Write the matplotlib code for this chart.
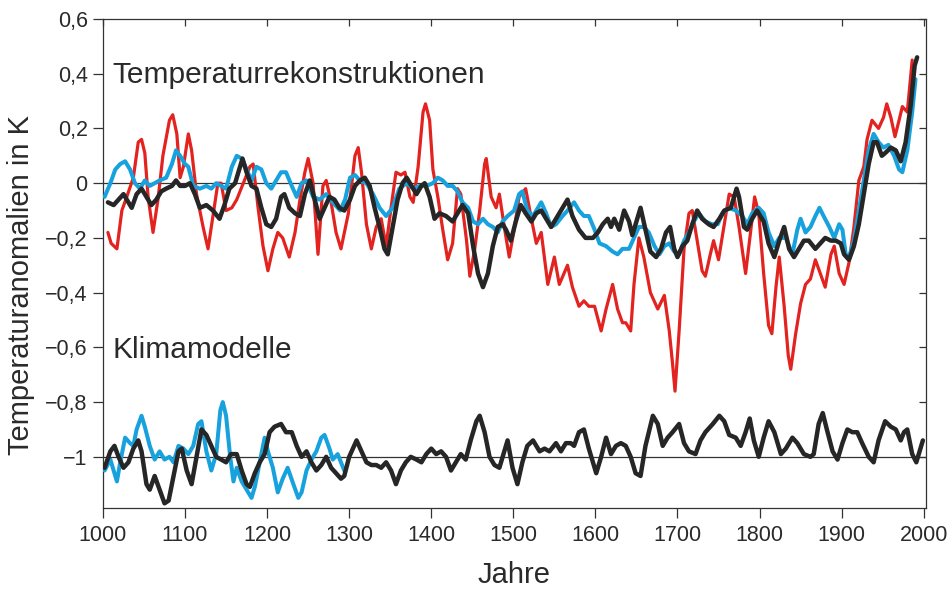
import numpy as np
import matplotlib
matplotlib.use("Agg")
from matplotlib import pyplot as plt
from matplotlib.ticker import FixedLocator, FixedFormatter

# Temperaturrekonstruktionen (rot)
red_years = [1006, 1010, 1017, 1023, 1029, 1037, 1043, 1047, 1051, 1055, 1061, 1067, 1073, 1081, 1085, 1090,
             1094, 1098, 1104, 1108, 1114, 1122, 1128, 1134, 1140, 1144, 1150, 1157, 1163, 1171, 1179, 1183,
             1189, 1195, 1201, 1207, 1213, 1219, 1227, 1234, 1240, 1246, 1250, 1256, 1262, 1268, 1272, 1278,
             1284, 1290, 1299, 1307, 1311, 1315, 1321, 1327, 1333, 1339, 1345, 1351, 1357, 1363, 1368, 1374,
             1378, 1384, 1390, 1393, 1398, 1402, 1408, 1414, 1420, 1426, 1432, 1436, 1443, 1447, 1453, 1459,
             1465, 1467, 1473, 1479, 1483, 1489, 1495, 1501, 1507, 1515, 1522, 1528, 1534, 1542, 1550, 1556,
             1566, 1572, 1580, 1586, 1592, 1599, 1607, 1613, 1621, 1627, 1633, 1637, 1643, 1647, 1653, 1659,
             1667, 1676, 1684, 1690, 1694, 1697, 1702, 1708, 1714, 1718, 1724, 1730, 1734, 1740, 1744, 1750,
             1757, 1763, 1769, 1775, 1783, 1789, 1794, 1799, 1805, 1811, 1815, 1820, 1824, 1830, 1835, 1838,
             1844, 1850, 1856, 1862, 1868, 1874, 1880, 1887, 1891, 1897, 1903, 1909, 1915, 1921, 1927, 1931,
             1937, 1945, 1951, 1955, 1960, 1965, 1970, 1974, 1980, 1986]
red_vals = [-0.18, -0.22, -0.24, -0.10, -0.05, 0.02, 0.15, 0.16, 0.11, -0.05, -0.18, -0.06, 0.10, 0.23, 0.25, 0.18,
            0.02, 0.06, 0.18, 0.12, -0.04, -0.16, -0.24, -0.12, 0.00, 0.00, -0.10, -0.09, -0.06, 0.00, 0.06, 0.07,
            -0.09, -0.23, -0.32, -0.24, -0.18, -0.20, -0.27, -0.18, -0.06, 0.04, 0.09, 0.00, -0.26, -0.01, 0.01, -0.07,
            -0.18, -0.24, -0.11, 0.10, 0.13, 0.04, -0.15, -0.24, -0.16, -0.13, -0.23, -0.09, 0.04, 0.03, 0.04, -0.05,
            -0.07, 0.06, 0.26, 0.29, 0.23, 0.05, -0.05, -0.17, -0.28, -0.22, -0.02, -0.04, -0.21, -0.34, -0.24, -0.10,
            0.07, 0.09, -0.05, -0.09, -0.04, -0.16, -0.27, -0.17, -0.05, -0.02, -0.13, -0.22, -0.18, -0.37, -0.27, -0.37,
            -0.30, -0.38, -0.45, -0.43, -0.45, -0.45, -0.54, -0.46, -0.37, -0.46, -0.51, -0.51, -0.54, -0.37, -0.20, -0.27,
            -0.40, -0.46, -0.41, -0.54, -0.66, -0.76, -0.54, -0.24, -0.11, -0.10, -0.21, -0.32, -0.34, -0.26, -0.21, -0.28,
            -0.15, -0.04, -0.05, -0.16, -0.33, -0.18, -0.05, -0.11, -0.33, -0.52, -0.55, -0.38, -0.27, -0.45, -0.63, -0.68,
            -0.55, -0.44, -0.37, -0.35, -0.28, -0.33, -0.38, -0.26, -0.23, -0.33, -0.37, -0.29, -0.16, 0.01, 0.06, 0.16,
            0.23, 0.20, 0.24, 0.29, 0.24, 0.17, 0.23, 0.28, 0.26, 0.45]

# Temperaturrekonstruktionen (blau)
blue_years = [1002, 1009, 1015, 1021, 1027, 1033, 1039, 1045, 1051, 1057, 1063, 1069, 1077, 1084, 1089, 1094,
              1100, 1104, 1110, 1118, 1126, 1132, 1138, 1144, 1150, 1157, 1163, 1169, 1175, 1181, 1187, 1193,
              1199, 1205, 1211, 1217, 1223, 1230, 1236, 1242, 1248, 1256, 1264, 1272, 1280, 1289, 1295, 1301,
              1307, 1313, 1321, 1329, 1337, 1345, 1353, 1361, 1370, 1378, 1386, 1394, 1402, 1408, 1414, 1420,
              1426, 1432, 1438, 1445, 1451, 1457, 1463, 1469, 1475, 1481, 1487, 1493, 1501, 1507, 1511, 1517,
              1524, 1530, 1534, 1540, 1546, 1552, 1560, 1566, 1574, 1580, 1586, 1592, 1599, 1605, 1613, 1621,
              1627, 1633, 1641, 1647, 1653, 1659, 1665, 1672, 1678, 1684, 1690, 1696, 1702, 1708, 1714, 1720,
              1726, 1734, 1742, 1749, 1755, 1763, 1771, 1779, 1785, 1791, 1799, 1805, 1811, 1818, 1824, 1832,
              1840, 1846, 1850, 1856, 1862, 1868, 1873, 1878, 1885, 1891, 1897, 1901, 1905, 1909, 1915, 1921,
              1927, 1933, 1939, 1945, 1951, 1957, 1964, 1970, 1974, 1980, 1986, 1990]
blue_vals = [-0.05, 0.00, 0.05, 0.07, 0.08, 0.05, 0.00, -0.02, 0.01, -0.01, 0.00, 0.01, 0.02, 0.07, 0.12, 0.10,
             0.07, 0.06, -0.01, -0.02, -0.01, -0.02, 0.00, -0.01, -0.02, 0.06, 0.10, 0.09, 0.05, 0.01, 0.06, 0.05,
             0.00, -0.02, 0.01, 0.04, 0.04, -0.01, -0.05, 0.00, 0.01, -0.05, -0.06, -0.04, -0.07, -0.10, -0.06, 0.02,
             0.03, 0.01, 0.00, -0.04, -0.09, -0.12, -0.09, -0.02, 0.00, -0.02, -0.01, -0.01, 0.00, 0.02, 0.01, -0.01,
             -0.01, -0.03, -0.07, -0.09, -0.14, -0.15, -0.13, -0.15, -0.16, -0.18, -0.14, -0.12, -0.10, -0.04, -0.03, -0.10,
             -0.12, -0.09, -0.07, -0.11, -0.16, -0.15, -0.12, -0.10, -0.07, -0.10, -0.12, -0.12, -0.17, -0.22, -0.23, -0.25,
             -0.26, -0.24, -0.24, -0.20, -0.16, -0.16, -0.18, -0.23, -0.26, -0.23, -0.22, -0.25, -0.26, -0.21, -0.18, -0.14,
             -0.11, -0.14, -0.15, -0.15, -0.11, -0.09, -0.10, -0.12, -0.15, -0.11, -0.09, -0.11, -0.18, -0.23, -0.20, -0.20,
             -0.26, -0.17, -0.13, -0.18, -0.16, -0.12, -0.09, -0.12, -0.16, -0.20, -0.15, -0.17, -0.26, -0.27, -0.21, -0.10,
             0.01, 0.12, 0.18, 0.15, 0.13, 0.14, 0.10, 0.05, 0.04, 0.12, 0.26, 0.38]

# Temperaturrekonstruktionen (schwarz)
black_years = [1006, 1013, 1019, 1025, 1029, 1035, 1041, 1047, 1053, 1059, 1065, 1071, 1077, 1084, 1089, 1094,
               1100, 1106, 1112, 1118, 1126, 1134, 1142, 1148, 1154, 1161, 1167, 1170, 1175, 1181, 1187, 1193,
               1199, 1205, 1211, 1217, 1221, 1227, 1234, 1240, 1246, 1252, 1258, 1264, 1270, 1276, 1282, 1288,
               1294, 1301, 1307, 1313, 1319, 1325, 1331, 1337, 1343, 1347, 1353, 1359, 1365, 1370, 1376, 1382,
               1388, 1392, 1398, 1404, 1410, 1418, 1426, 1432, 1438, 1445, 1451, 1457, 1463, 1469, 1475, 1481,
               1487, 1491, 1497, 1503, 1509, 1515, 1522, 1528, 1534, 1540, 1546, 1552, 1560, 1566, 1572, 1580,
               1588, 1597, 1603, 1609, 1615, 1619, 1623, 1629, 1635, 1641, 1645, 1649, 1655, 1661, 1667, 1674,
               1680, 1686, 1691, 1696, 1700, 1706, 1712, 1718, 1724, 1730, 1738, 1744, 1751, 1757, 1765, 1772,
               1775, 1781, 1785, 1791, 1797, 1805, 1811, 1818, 1824, 1830, 1836, 1842, 1848, 1854, 1860, 1868,
               1874, 1880, 1887, 1893, 1899, 1903, 1909, 1915, 1921, 1927, 1933, 1939, 1943, 1949, 1953, 1960,
               1966, 1972, 1978, 1984, 1989, 1992]
black_vals = [-0.07, -0.08, -0.06, -0.04, -0.06, -0.09, -0.04, -0.02, -0.05, -0.08, -0.06, -0.03, -0.02, -0.01, 0.01, -0.01,
              -0.01, 0.00, -0.04, -0.09, -0.08, -0.10, -0.13, -0.08, -0.02, 0.00, 0.06, 0.09, 0.04, -0.01, -0.02, -0.09,
              -0.15, -0.16, -0.13, -0.05, -0.04, -0.09, -0.11, -0.12, -0.04, 0.01, -0.06, -0.13, -0.09, -0.05, -0.06, -0.09,
              -0.10, -0.06, -0.01, 0.01, 0.02, -0.01, -0.09, -0.16, -0.24, -0.26, -0.16, -0.06, 0.00, 0.02, -0.01, -0.04,
              -0.01, 0.00, -0.05, -0.13, -0.11, -0.12, -0.14, -0.11, -0.08, -0.11, -0.23, -0.33, -0.38, -0.33, -0.23, -0.16,
              -0.15, -0.17, -0.21, -0.14, -0.08, -0.11, -0.14, -0.11, -0.10, -0.13, -0.16, -0.13, -0.09, -0.06, -0.12, -0.17,
              -0.20, -0.20, -0.18, -0.15, -0.13, -0.16, -0.13, -0.17, -0.10, -0.14, -0.19, -0.15, -0.09, -0.17, -0.25, -0.27,
              -0.24, -0.18, -0.16, -0.24, -0.27, -0.23, -0.21, -0.15, -0.10, -0.13, -0.15, -0.16, -0.13, -0.10, -0.09, -0.02,
              -0.05, -0.16, -0.17, -0.13, -0.10, -0.14, -0.22, -0.27, -0.21, -0.16, -0.24, -0.27, -0.24, -0.21, -0.21, -0.24,
              -0.22, -0.20, -0.21, -0.21, -0.22, -0.26, -0.28, -0.23, -0.15, -0.04, 0.07, 0.15, 0.15, 0.10, 0.11, 0.13,
              0.12, 0.08, 0.15, 0.28, 0.43, 0.46]

# Klimamodelle (blau)
mblue_years = [1002, 1009, 1013, 1017, 1021, 1027, 1033, 1037, 1041, 1047, 1051, 1057, 1063, 1069, 1075, 1081,
               1086, 1092, 1098, 1104, 1110, 1116, 1120, 1126, 1132, 1138, 1143, 1146, 1150, 1155, 1159, 1163,
               1169, 1175, 1181, 1185, 1191, 1197, 1201, 1207, 1213, 1219, 1225, 1232, 1238, 1242, 1248, 1254,
               1260, 1266, 1270, 1276, 1280, 1286, 1290, 1294]
mblue_vals = [-1.05, -1.01, -1.05, -1.09, -1.02, -0.93, -0.95, -0.96, -0.90, -0.85, -0.89, -0.96, -1.01, -0.98, -1.01, -1.00,
              -1.02, -0.96, -0.97, -0.99, -0.96, -0.88, -0.87, -0.98, -1.05, -0.99, -0.83, -0.80, -0.85, -1.00, -1.09, -1.04,
              -1.09, -1.12, -1.15, -1.11, -1.02, -0.93, -0.98, -1.04, -1.13, -1.08, -1.04, -1.10, -1.15, -1.13, -1.05, -1.01,
              -0.98, -0.93, -0.92, -0.97, -1.01, -0.99, -1.02, -1.05]

# Klimamodelle (schwarz)
mblack_years = [1002, 1009, 1014, 1019, 1025, 1031, 1037, 1043, 1047, 1053, 1057, 1063, 1069, 1075, 1080, 1086,
                1092, 1096, 1102, 1108, 1114, 1120, 1126, 1132, 1138, 1144, 1150, 1156, 1163, 1169, 1175, 1179,
                1185, 1191, 1197, 1203, 1209, 1217, 1223, 1230, 1236, 1242, 1248, 1254, 1260, 1266, 1272, 1278,
                1284, 1290, 1294, 1300, 1309, 1315, 1321, 1327, 1333, 1339, 1345, 1351, 1357, 1363, 1369, 1375,
                1382, 1388, 1394, 1400, 1406, 1412, 1418, 1424, 1430, 1436, 1442, 1448, 1455, 1459, 1465, 1471,
                1477, 1483, 1487, 1493, 1499, 1505, 1511, 1517, 1524, 1532, 1538, 1544, 1552, 1558, 1564, 1570,
                1574, 1580, 1586, 1592, 1601, 1607, 1613, 1619, 1625, 1631, 1637, 1643, 1649, 1655, 1661, 1670,
                1676, 1682, 1688, 1694, 1702, 1708, 1714, 1722, 1728, 1734, 1743, 1751, 1757, 1763, 1771, 1777,
                1783, 1788, 1793, 1799, 1805, 1811, 1818, 1826, 1832, 1840, 1846, 1854, 1862, 1866, 1872, 1877,
                1882, 1889, 1895, 1901, 1907, 1913, 1919, 1925, 1933, 1939, 1945, 1953, 1960, 1966, 1972, 1976,
                1980, 1986, 1991, 1995, 1999]
mblack_vals = [-1.04, -0.98, -0.96, -1.00, -1.04, -1.02, -0.97, -0.94, -0.98, -1.10, -1.12, -1.07, -1.12, -1.17, -1.16, -1.07,
               -0.98, -0.97, -1.05, -1.10, -1.00, -0.90, -0.92, -0.96, -1.00, -1.01, -1.02, -0.99, -0.99, -1.05, -1.10, -1.11,
               -1.06, -1.02, -0.99, -0.91, -0.89, -0.88, -0.91, -0.91, -0.96, -1.00, -0.98, -1.02, -1.05, -1.03, -1.00, -1.04,
               -1.06, -1.08, -1.07, -1.00, -0.94, -0.98, -1.02, -1.03, -1.03, -1.04, -1.02, -1.05, -1.10, -1.05, -1.02, -1.00,
               -1.01, -1.02, -0.99, -0.97, -0.99, -0.98, -1.00, -1.05, -1.02, -0.99, -1.01, -0.94, -0.87, -0.85, -0.91, -1.00,
               -1.03, -1.04, -1.00, -0.94, -1.04, -1.10, -1.02, -0.96, -0.94, -0.98, -0.97, -0.98, -0.95, -0.98, -0.95, -0.95,
               -0.96, -0.91, -0.90, -0.97, -1.06, -1.00, -0.93, -0.99, -0.96, -0.95, -0.96, -1.00, -1.06, -1.07, -0.96, -0.85,
               -0.88, -0.96, -0.93, -0.91, -0.88, -0.95, -0.98, -0.99, -0.94, -0.91, -0.88, -0.85, -0.87, -0.92, -0.93, -0.96,
               -0.91, -0.86, -0.94, -1.00, -0.93, -0.87, -0.91, -0.99, -0.97, -0.93, -0.95, -0.99, -1.00, -0.99, -0.88, -0.84,
               -0.90, -0.98, -1.01, -0.95, -0.90, -0.91, -0.91, -0.95, -1.00, -1.02, -0.94, -0.87, -0.89, -0.90, -0.94, -0.91,
               -0.90, -0.99, -1.02, -0.98, -0.94]

x_ticks = [1000, 1100, 1200, 1300, 1400, 1500, 1600, 1700, 1800, 1900, 2000]
y_ticks = [0.6, 0.4, 0.2, 0.0, -0.2, -0.4, -0.6, -0.8, -1.0]
y_labels = ["0,6", "0,4", "0,2", "0", "\u22120,2", "\u22120,4", "\u22120,6", "\u22120,8", "\u22121"]

plt.rcParams['font.family'] = ["Liberation Sans", "DejaVu Sans"]

RED = "#e2231f"
BLUE = "#17a1dd"
BLACK = "#262626"
TXT = "#2a2a2a"

fig = plt.figure(figsize=(9.49, 5.90), dpi=100)
ax = fig.add_axes([0.1085, 0.139, 0.867, 0.8288])

ax.axhline(0, color="#333333", lw=0.9, zorder=1)
ax.axhline(-1, color="#333333", lw=0.9, zorder=1)

ax.plot(red_years, red_vals, color=RED, lw=2.3, solid_joinstyle='round', solid_capstyle='round', zorder=2)
ax.plot(blue_years, blue_vals, color=BLUE, lw=2.9, solid_joinstyle='round', solid_capstyle='round', zorder=3)
ax.plot(black_years, black_vals, color=BLACK, lw=3.2, solid_joinstyle='round', solid_capstyle='round', zorder=4)
ax.plot(mblue_years, mblue_vals, color=BLUE, lw=2.9, solid_joinstyle='round', solid_capstyle='round', zorder=3)
ax.plot(mblack_years, mblack_vals, color=BLACK, lw=3.2, solid_joinstyle='round', solid_capstyle='round', zorder=4)

ax.set_xlim(1000, 2002.5)
ax.set_ylim(-1.187, 0.6)

ax.xaxis.set_major_locator(FixedLocator(x_ticks))
ax.yaxis.set_major_locator(FixedLocator(y_ticks))
ax.yaxis.set_major_formatter(FixedFormatter(y_labels))
ax.tick_params(axis='both', direction='out', length=7, width=0.9, labelsize=15.5, colors="#333333",
               labelcolor=TXT)
ax.tick_params(axis='x', pad=5)
ax.tick_params(axis='y', pad=4)
ax.tick_params(which='both', right=True, top=True)

for side in ['left', 'right', 'top', 'bottom']:
    ax.spines[side].set_linewidth(0.9)
    ax.spines[side].set_color("#333333")

# ticks on the right and top point inward
for t in ax.yaxis.get_major_ticks():
    t.tick2line.set_marker(matplotlib.lines.TICKLEFT)
    t.tick2line.set_markersize(5)
for t in ax.xaxis.get_major_ticks():
    t.tick2line.set_marker(matplotlib.lines.TICKDOWN)
    t.tick2line.set_markersize(5)

ax.set_xlabel("Jahre", fontsize=21, color=TXT, labelpad=11)
ax.set_ylabel("Temperaturanomalien in K", fontsize=21, color=TXT)
ax.yaxis.set_label_coords(-0.083, 0.456)

ax.text(0.012, 0.885, "Temperaturrekonstruktionen", transform=ax.transAxes, fontsize=21.5,
        va='center', ha='left', color=TXT)
ax.text(0.012, 0.323, "Klimamodelle", transform=ax.transAxes, fontsize=21.5,
        va='center', ha='left', color=TXT)

fig.savefig("out.png", dpi=100)
